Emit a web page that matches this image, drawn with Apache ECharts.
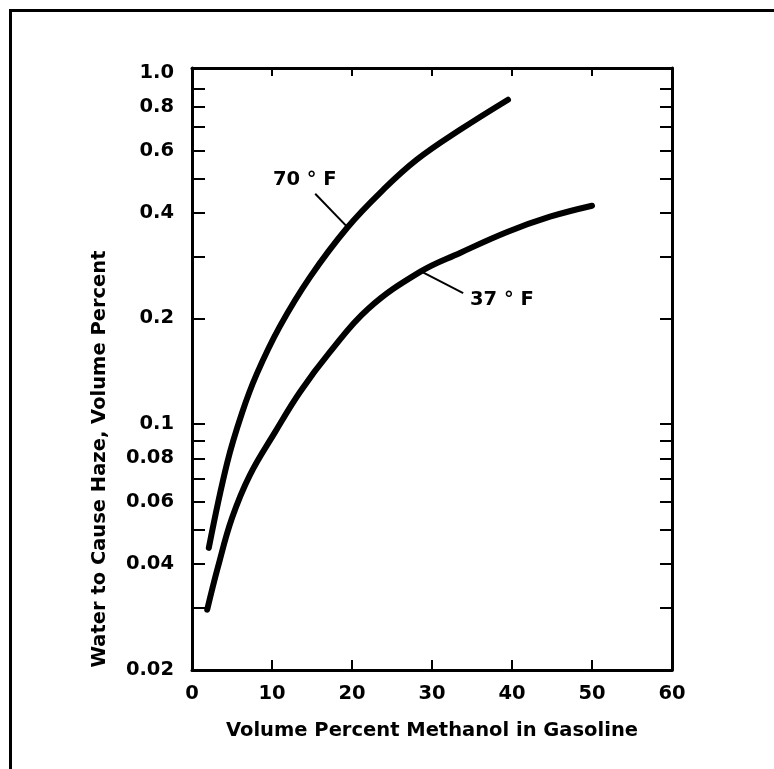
<!DOCTYPE html>
<html>
<head>
<meta charset="utf-8">
<script src="https://cdn.jsdelivr.net/npm/echarts@6/dist/echarts.min.js"></script>
<style>
html,body{margin:0;padding:0;background:#fff;}
#c{width:774px;height:769px;}
</style>
</head>
<body>
<div id="c"></div>
<script>
// ---- data ----
const methanol70 = [2.1, 4.4, 6.25, 8.1, 11.0, 14.75, 19.4, 23.9, 28.1, 33.5, 39.5];
const water70    = [0.0445, 0.0777, 0.1076, 0.139, 0.190, 0.262, 0.362, 0.464, 0.565, 0.687, 0.837];
const methanol37 = [1.9, 3.25, 5.0, 7.25, 10.4, 13.5, 17.25, 22.0, 28.5, 33.5, 39.4, 44.75, 50.0];
const water37    = [0.0297, 0.0393, 0.0541, 0.0718, 0.0951, 0.1235, 0.1605, 0.2127, 0.271, 0.3069, 0.352, 0.389, 0.418];

const xTickValues = [0, 10, 20, 30, 40, 50, 60];
const yLabelValues = ['0.02', '0.04', '0.06', '0.08', '0.1', '0.2', '0.4', '0.6', '0.8', '1.0'];
const yTickValues = [0.02, 0.03, 0.04, 0.05, 0.06, 0.07, 0.08, 0.09, 0.1, 0.2, 0.3, 0.4, 0.5, 0.6, 0.7, 0.8, 0.9];

const curveNames = ['70 ° F', '37 ° F'];
// annotation anchors in data space: [text anchor], [leader start], [leader end]
const label70Text = [14.1, 0.495];
const label70Lead = [[15.4, 0.452], [19.4, 0.364]];
const label37Text = [34.75, 0.2256];
const label37Lead = [[28.75, 0.271], [33.9, 0.236]];

const xTitle = 'Volume Percent Methanol in Gasoline';
const yTitle = 'Water to Cause Haze, Volume Percent';

// ---- chart ----
const FONT = '"DejaVu Sans", "Liberation Sans", Arial, sans-serif';
const txt = { fontFamily: FONT, fontWeight: 'bold', fontSize: 19.5, color: '#000' };
const axisLine = { show: true, onZero: false, lineStyle: { color: '#000', width: 3 } };
const tickStyle = { color: '#000', width: 2 };

function yFmt(v) {
  for (const s of yLabelValues) {
    if (Math.abs(parseFloat(s) / v - 1) < 1e-6) return s;
  }
  return '';
}
function pairs(xs, ys) { return xs.map((x, i) => [x, ys[i]]); }

const chart = echarts.init(document.getElementById('c'), null, { renderer: 'canvas' });
chart.setOption({
  animation: false,
  backgroundColor: '#fff',
  grid: { left: 192, right: 102, top: 68, bottom: 99, containLabel: false },
  graphic: [
    { type: 'rect', left: 8, top: 8, z: 0, silent: true,
      shape: { width: 820, height: 820 },
      style: { fill: 'none', stroke: '#000', lineWidth: 3 } }
  ],
  xAxis: [
    { type: 'value', position: 'bottom', min: 0, max: 60, interval: 10,
      axisLine: axisLine,
      axisTick: { show: true, inside: true, length: 10, lineStyle: tickStyle },
      axisLabel: Object.assign({ margin: 14 }, txt),
      splitLine: { show: false },
      name: xTitle, nameLocation: 'middle', nameGap: 51,
      nameTextStyle: Object.assign({}, txt) },
    { type: 'value', position: 'top', min: 0, max: 60, interval: 10,
      axisLine: axisLine,
      axisTick: { show: true, inside: true, length: 8, lineStyle: tickStyle },
      axisLabel: { show: false },
      splitLine: { show: false } }
  ],
  yAxis: [
    { type: 'log', logBase: 10, position: 'left', min: 0.02, max: 1.03,
      axisLine: axisLine,
      axisTick: { show: true, inside: true, length: 13, lineStyle: tickStyle, customValues: yTickValues },
      axisLabel: Object.assign({ margin: 18, customValues: yLabelValues.map(Number), formatter: yFmt }, txt),
      splitLine: { show: false },
      minorTick: { show: false },
      name: yTitle, nameLocation: 'middle', nameGap: 82,
      nameTextStyle: Object.assign({ padding: [0, 180, 0, 0] }, txt) },
    { type: 'log', logBase: 10, position: 'right', min: 0.02, max: 1.03,
      axisLine: axisLine,
      axisTick: { show: true, inside: true, length: 12, lineStyle: tickStyle, customValues: yTickValues },
      axisLabel: { show: false },
      splitLine: { show: false } }
  ],
  series: [
    { name: curveNames[0], type: 'line', xAxisIndex: 0, yAxisIndex: 0,
      data: pairs(methanol70, water70),
      showSymbol: false, symbol: 'none', smooth: 0.4,
      lineStyle: { color: '#000', width: 6, cap: 'round' },
      markLine: { silent: true, symbol: ['none', 'none'], label: { show: false },
        lineStyle: { color: '#000', width: 2, type: 'solid' },
        data: [[{ coord: label70Lead[0] }, { coord: label70Lead[1] }]] },
      markPoint: { silent: true, symbol: 'circle', symbolSize: 0,
        data: [{ coord: label70Text,
          label: Object.assign({ show: true, position: 'inside', formatter: curveNames[0] }, txt) }] }
    },
    { name: curveNames[1], type: 'line', xAxisIndex: 0, yAxisIndex: 0,
      data: pairs(methanol37, water37),
      showSymbol: false, symbol: 'none', smooth: 0.4,
      lineStyle: { color: '#000', width: 6, cap: 'round' },
      markLine: { silent: true, symbol: ['none', 'none'], label: { show: false },
        lineStyle: { color: '#000', width: 2, type: 'solid' },
        data: [[{ coord: label37Lead[0] }, { coord: label37Lead[1] }]] },
      markPoint: { silent: true, symbol: 'circle', symbolSize: 0,
        data: [{ coord: label37Text,
          label: Object.assign({ show: true, position: 'right', distance: 0, formatter: curveNames[1] }, txt) }] }
    }
  ]
});
</script>
</body>
</html>
